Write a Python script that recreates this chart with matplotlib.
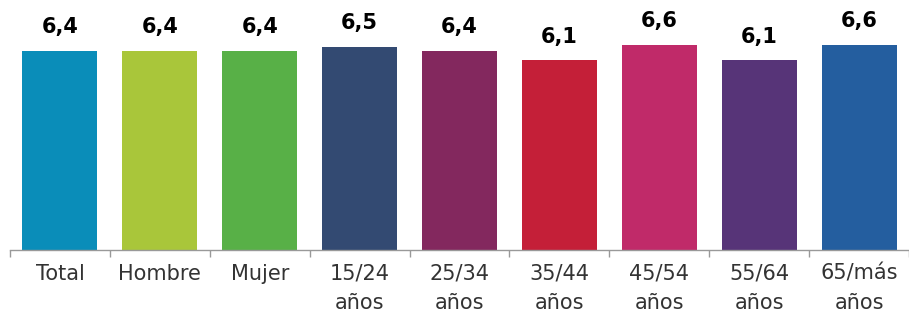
import numpy as np
import matplotlib
matplotlib.use('Agg')
import matplotlib.pyplot as plt

# Data
categories = ['Total', 'Hombre', 'Mujer', '15/24\naños', '25/34\naños',
              '35/44\naños', '45/54\naños', '55/64\naños', '65/más\naños']
values = [6.4, 6.4, 6.4, 6.55, 6.4, 6.1, 6.6, 6.1, 6.6]
value_labels = ['6,4', '6,4', '6,4', '6,5', '6,4', '6,1', '6,6', '6,1', '6,6']
bar_colors = ['#0A8DB9', '#A9C63A', '#58B047', '#334A72', '#83285E',
              '#C41F38', '#C02A69', '#573478', '#245E9F']

fig = plt.figure(figsize=(9.09, 3.16), dpi=100)
ax = fig.add_axes([10 / 909, 66 / 316, 899 / 909, 233 / 316])

x = np.arange(len(categories))
ax.bar(x, values, width=0.75, color=bar_colors, zorder=2)

# Value labels above each bar
for xi, v, lab in zip(x, values, value_labels):
    ax.annotate(lab, (xi, v), xytext=(0, 10), textcoords='offset points',
                ha='center', va='bottom', fontsize=15, fontweight='bold',
                color='black', clip_on=False)

# last category runs past the right edge, as in the original
ax.set_xlim(-0.5, 8.4)
ax.set_ylim(0, 7.5)

# Category labels at centres, small tick marks at the boundaries
ax.set_xticks(x)
ax.set_xticklabels(categories, fontsize=15, color='#333333', linespacing=1.6)
ax.set_xticks(np.arange(-0.5, len(categories), 1), minor=True)
ax.tick_params(axis='x', which='major', length=0, pad=10)
ax.tick_params(axis='x', which='minor', length=5, width=1, color='#999999')
for lab in ax.get_xticklabels():
    lab.set_verticalalignment('top')

ax.set_yticks([])
for side in ['top', 'right', 'left']:
    ax.spines[side].set_visible(False)
ax.spines['bottom'].set_color('#999999')
ax.spines['bottom'].set_linewidth(1)

fig.savefig('out.png', dpi=100)
